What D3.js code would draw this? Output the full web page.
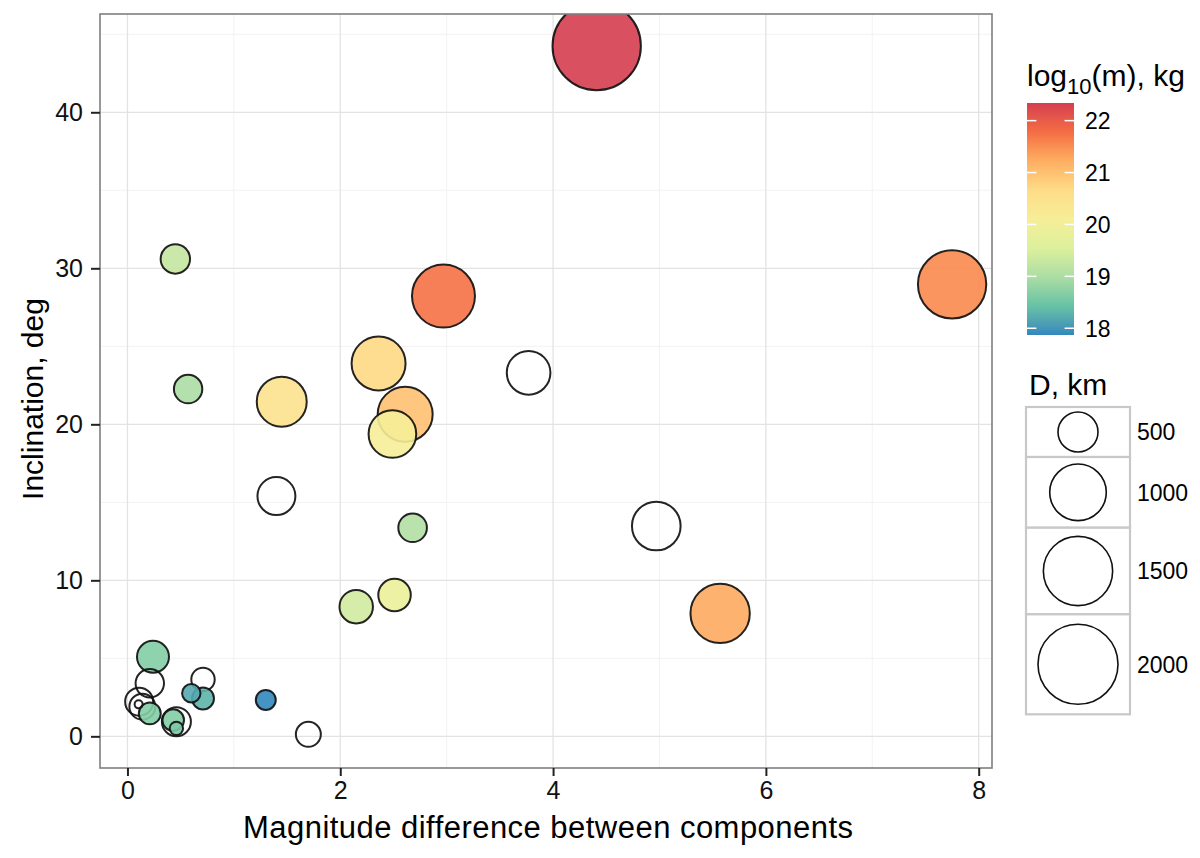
<!DOCTYPE html>
<html>
<head>
<meta charset="utf-8">
<script src="https://cdn.jsdelivr.net/npm/d3@7"></script>
<style>
  body { margin: 0; background: #fff; }
  svg { display: block; font-family: "Liberation Sans", Arial, sans-serif; }
</style>
</head>
<body>
<svg id="mainsvg" width="1200" height="858"></svg>
<script>
// values (larger bodies first so small ones sit on top)
const magDiff = [4.41, 7.75, 2.97, 5.57, 2.61, 2.36, 1.45, 4.97, 2.49, 3.77,
  1.40, 2.15, 2.51, 0.24, 0.45, 0.46, 2.68, 0.57, 0.21, 0.11,
  0.14, 1.70, 0.71, 0.21, 0.71, 0.43, 1.30, 0.60, 0.46, 0.105];
const inclination = [44.25, 28.97, 28.22, 7.88, 20.64, 23.9, 21.45, 13.48, 19.38, 23.3,
  15.4, 8.31, 9.06, 5.1, 30.6, 0.94, 13.37, 22.26, 3.4, 2.22,
  1.9, 0.13, 3.65, 1.47, 2.43, 1.04, 2.33, 2.76, 0.51, 2.05];
const diameter = [2440, 1460, 1240, 1100, 945, 910, 780, 740, 710, 595,
  450, 350, 330, 320, 270, 263, 256, 252, 252, 245,
  210, 195, 171, 150, 151, 146, 125, 106, 56, 20];
// log10 of mass; null = unknown mass (drawn open)
const logMass = [22.34, 21.55, 21.75, 21.25, 21.0, 20.7, 20.5, null, 20.1, null,
  null, 19.4, 19.85, 18.65, 19.25, null, 19.05, 19.0, null, null,
  null, null, null, 18.65, 18.3, 18.65, 17.87, 18.2, 18.6, null];

const xTicks = [0, 2, 4, 6, 8];
const yTicks = [0, 10, 20, 30, 40];
const massTicks = [18, 19, 20, 21, 22];
const sizeBreaks = [500, 1000, 1500, 2000];
const palette = ['#3288BD', '#66C2A5', '#ABDDA4', '#DDF09C', '#F6EE98',
  '#FEDC88', '#FDAE61', '#F46D43', '#D53E4F'];

const svg = d3.select('#mainsvg');
const panel = { left: 100, top: 14, right: 992, bottom: 768 };

const x = d3.scaleLinear().domain([-0.258, 8.125]).range([panel.left, panel.right]);
const y = d3.scaleLinear().domain([-2.03, 46.3]).range([panel.bottom, panel.top]);
const r = d3.scaleSqrt().domain([0, 2000]).range([0, 40]);

const mMin = 17.87, mMax = 22.34;
const colour = d3.scaleLinear()
  .domain(palette.map((d, i) => mMin + i * (mMax - mMin) / (palette.length - 1)))
  .range(palette)
  .interpolate(d3.interpolateLab);

const points = magDiff.map((d, i) => ({
  x: d, y: inclination[i], D: diameter[i], m: logMass[i]
}));

// panel background + grid
svg.append('rect')
  .attr('x', panel.left).attr('y', panel.top)
  .attr('width', panel.right - panel.left).attr('height', panel.bottom - panel.top)
  .attr('fill', '#fff');

const grid = svg.append('g');
const xMinor = [1, 3, 5, 7];
const yMinor = [5, 15, 25, 35, 45];
grid.selectAll('.xminor').data(xMinor).join('line')
  .attr('class', 'xminor')
  .attr('x1', d => x(d)).attr('x2', d => x(d))
  .attr('y1', panel.top).attr('y2', panel.bottom)
  .attr('stroke', '#f2f2f2').attr('stroke-width', 1);
grid.selectAll('.yminor').data(yMinor).join('line')
  .attr('class', 'yminor')
  .attr('x1', panel.left).attr('x2', panel.right)
  .attr('y1', d => y(d)).attr('y2', d => y(d))
  .attr('stroke', '#f2f2f2').attr('stroke-width', 1);
grid.selectAll('.xmajor').data(xTicks).join('line')
  .attr('class', 'xmajor')
  .attr('x1', d => x(d)).attr('x2', d => x(d))
  .attr('y1', panel.top).attr('y2', panel.bottom)
  .attr('stroke', '#e3e3e3').attr('stroke-width', 1.3);
grid.selectAll('.ymajor').data(yTicks).join('line')
  .attr('class', 'ymajor')
  .attr('x1', panel.left).attr('x2', panel.right)
  .attr('y1', d => y(d)).attr('y2', d => y(d))
  .attr('stroke', '#e3e3e3').attr('stroke-width', 1.3);

// points, clipped to the panel
svg.append('clipPath').attr('id', 'clip')
  .append('rect')
  .attr('x', panel.left).attr('y', panel.top)
  .attr('width', panel.right - panel.left).attr('height', panel.bottom - panel.top);

svg.append('g').attr('clip-path', 'url(#clip)')
  .selectAll('circle')
  .data(points)
  .join('circle')
  .attr('cx', d => x(d.x))
  .attr('cy', d => y(d.y))
  .attr('r', d => r(d.D))
  .attr('fill', d => d.m == null ? '#fff' : colour(d.m))
  .attr('fill-opacity', d => d.m == null ? 0 : 0.9)
  .attr('stroke', '#111')
  .attr('stroke-opacity', 0.92)
  .attr('stroke-width', 2);

// panel border
svg.append('rect')
  .attr('x', panel.left).attr('y', panel.top)
  .attr('width', panel.right - panel.left).attr('height', panel.bottom - panel.top)
  .attr('fill', 'none').attr('stroke', '#7f7f7f').attr('stroke-width', 1.6);

// axes
const xAxis = svg.append('g')
  .attr('transform', `translate(0,${panel.bottom})`)
  .call(d3.axisBottom(x).tickValues(xTicks).tickSize(8).tickPadding(5).tickFormat(d3.format('d')));
const yAxis = svg.append('g')
  .attr('transform', `translate(${panel.left},0)`)
  .call(d3.axisLeft(y).tickValues(yTicks).tickSize(9).tickPadding(8).tickFormat(d3.format('d')));
[xAxis, yAxis].forEach(a => {
  a.select('.domain').remove();
  a.selectAll('.tick line').attr('stroke', '#222').attr('stroke-width', 2);
  a.selectAll('.tick text')
    .attr('fill', '#111')
    .style('font-size', '25px')
    .style('font-family', '"Liberation Sans", Arial, sans-serif');
});

svg.append('text')
  .attr('x', (panel.left + panel.right) / 2 + 2)
  .attr('y', 838)
  .attr('text-anchor', 'middle')
  .attr('textLength', 610)
  .attr('lengthAdjust', 'spacing')
  .style('font-size', '31px')
  .text('Magnitude difference between components');

svg.append('text')
  .attr('transform', `translate(43,${(panel.top + panel.bottom) / 2 + 8}) rotate(-90)`)
  .attr('text-anchor', 'middle')
  .style('font-size', '30px')
  .text('Inclination, deg');

// colour bar legend
const bar = { x: 1027, w: 47, top: 103, bottom: 335 };
const yBar = d3.scaleLinear().domain([mMin, mMax]).range([bar.bottom, bar.top]);

const title1 = svg.append('text')
  .attr('x', 1027).attr('y', 86)
  .style('font-size', '30px');
title1.append('tspan').text('log');
title1.append('tspan').attr('dy', 8).style('font-size', '22px').text('10');
title1.append('tspan').attr('dy', -8).text('(m), kg');

const grad = svg.append('defs').append('linearGradient')
  .attr('id', 'massgrad')
  .attr('x1', 0).attr('y1', 1).attr('x2', 0).attr('y2', 0);
grad.selectAll('stop')
  .data(d3.range(0, 1.0001, 0.02))
  .join('stop')
  .attr('offset', d => d)
  .attr('stop-color', d => colour(mMin + d * (mMax - mMin)));

svg.append('rect')
  .attr('x', bar.x).attr('y', bar.top)
  .attr('width', bar.w).attr('height', bar.bottom - bar.top)
  .attr('fill', 'url(#massgrad)');

const barTicks = svg.append('g');
barTicks.selectAll('.tl').data(massTicks).join('line')
  .attr('class', 'tl')
  .attr('x1', bar.x).attr('x2', bar.x + bar.w / 5)
  .attr('y1', d => yBar(d)).attr('y2', d => yBar(d))
  .attr('stroke', '#fff').attr('stroke-width', 1.5);
barTicks.selectAll('.tr').data(massTicks).join('line')
  .attr('class', 'tr')
  .attr('x1', bar.x + bar.w * 4 / 5).attr('x2', bar.x + bar.w)
  .attr('y1', d => yBar(d)).attr('y2', d => yBar(d))
  .attr('stroke', '#fff').attr('stroke-width', 1.5);
barTicks.selectAll('text').data(massTicks).join('text')
  .attr('x', 1085)
  .attr('y', d => yBar(d))
  .attr('dy', '0.36em')
  .style('font-size', '23px')
  .text(d => d);

// size legend
svg.append('text')
  .attr('x', 1029).attr('y', 395)
  .style('font-size', '30px')
  .text('D, km');

const keyW = 104;
let keyTop = 407;
const keys = sizeBreaks.map(b => {
  const h = 2.5 * r(b);
  const k = { b, top: keyTop, h };
  keyTop += h;
  return k;
});
const sizeKeys = svg.append('g').selectAll('g').data(keys).join('g')
  .attr('transform', d => `translate(1026,${d.top})`);
sizeKeys.append('rect')
  .attr('width', keyW).attr('height', d => d.h)
  .attr('fill', '#fff').attr('stroke', '#c8c8c8').attr('stroke-width', 2.2);
sizeKeys.append('circle')
  .attr('cx', keyW / 2).attr('cy', d => d.h / 2)
  .attr('r', d => r(d.b))
  .attr('fill', 'none').attr('stroke', '#111').attr('stroke-width', 1.6);
sizeKeys.append('text')
  .attr('x', keyW + 7).attr('y', d => d.h / 2)
  .attr('dy', '0.36em')
  .style('font-size', '23px')
  .text(d => d.b);
</script>
</body>
</html>
